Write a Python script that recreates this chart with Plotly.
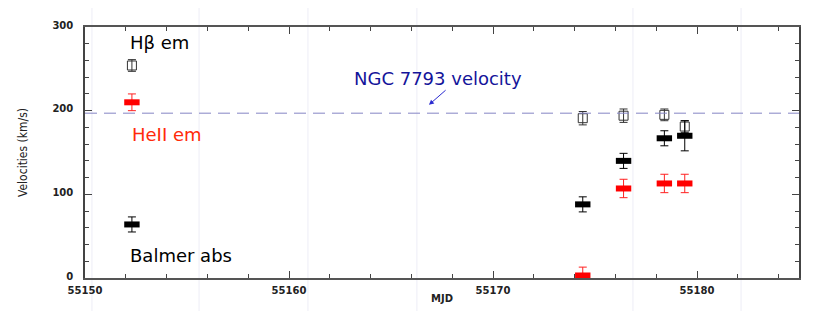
import plotly.graph_objects as go

# observation epochs (MJD) and measured velocities (km/s)
mjd = [55152.3, 55174.4, 55176.4, 55178.4, 55179.4]
hb_vel = [254, 191, 194, 195, 181]
hb_err = [7, 8, 8, 7, 7]
heii_vel = [210, 3, 107, 113, 113]
heii_err = [10, 10, 11, 11, 11]
balmer_vel = [64, 88, 140, 167, 170]
balmer_err = [9, 9, 9, 9, 18]
ngc_velocity = 197

x_range = [55150, 55185]
y_range = [0, 300]

# faint vertical lines seen in the scanned background
bg_lines = [55150.34, 55155.59, 55160.93, 55166.27, 55176.86, 55182.16]

fig = go.Figure()

for xb in bg_lines:
    fig.add_shape(type="line", xref="x", yref="paper", x0=xb, x1=xb, y0=-0.2, y1=1.2,
                  line=dict(color="#ededf6", width=1), layer="below")

fig.add_hline(y=ngc_velocity, line=dict(color="#8585c4", width=1, dash="12px,7px"))

fig.add_trace(go.Scatter(
    x=mjd, y=hb_vel, mode="markers", name="Hb em",
    marker=dict(symbol="square-open", size=9, color="#333333", line=dict(width=1, color="#333333")),
    error_y=dict(type="data", array=hb_err, color="#333333", thickness=1, width=4),
))
fig.add_trace(go.Scatter(
    x=mjd, y=balmer_vel, mode="markers", name="Balmer abs",
    marker=dict(symbol="line-ew", size=11, color="black", line=dict(width=6, color="black")),
    error_y=dict(type="data", array=balmer_err, color="black", thickness=1, width=4),
))
fig.add_trace(go.Scatter(
    x=mjd, y=heii_vel, mode="markers", name="HeII em",
    marker=dict(symbol="line-ew", size=11, color="#ff0000", line=dict(width=6, color="#ff0000")),
    error_y=dict(type="data", array=heii_err, color="#ff2020", thickness=1, width=4),
))

label_font = dict(family="DejaVu Sans, Arial, sans-serif", size=18)
fig.add_annotation(x=55152.1, y=282, text="Hβ em", showarrow=False, xanchor="left",
                   font=dict(**label_font, color="black"))
fig.add_annotation(x=55152.2, y=171, text="HeII em", showarrow=False, xanchor="left",
                   font=dict(**label_font, color="#ff2a0a"))
fig.add_annotation(x=55152.1, y=27, text="Balmer abs", showarrow=False, xanchor="left",
                   font=dict(**label_font, color="black"))
fig.add_annotation(x=55163.1, y=238, text="NGC 7793 velocity", showarrow=False, xanchor="left",
                   font=dict(family="DejaVu Sans, Arial, sans-serif", size=18, color="#14149a"))
fig.add_annotation(x=55166.86, y=207, ax=55167.75, ay=226, axref="x", ayref="y", text="",
                   showarrow=True, arrowhead=2, arrowsize=1, arrowwidth=1, arrowcolor="#2a2ad0")

tick_font = dict(family="DejaVu Sans, Arial, sans-serif", size=10, color="#222222", weight="bold")

fig.update_xaxes(
    range=x_range, dtick=10, tick0=55150, tickformat="d", ticks="inside", ticklen=7, tickcolor="#444444",
    minor=dict(dtick=2, ticks="inside", ticklen=4, tickcolor="#444444"),
    showline=True, linecolor="#555555", linewidth=1.5, mirror="allticks",
    showgrid=False, zeroline=False, tickfont=tick_font, automargin=False, ticklabelstandoff=2,
    title=dict(text="<b>MJD</b>", font=dict(family="DejaVu Sans, Arial, sans-serif", size=10, color="#222222"),
               standoff=0),
)
fig.update_yaxes(
    range=y_range, dtick=100, ticks="inside", ticklen=7, tickcolor="#444444",
    minor=dict(dtick=20, ticks="inside", ticklen=4, tickcolor="#444444"),
    showline=True, linecolor="#444444", linewidth=1.5, mirror="allticks",
    showgrid=False, zeroline=False, tickfont=tick_font, ticklabelstandoff=8, ticklabelshift=-2,
    automargin=False,
    title=dict(text="Velocities (km/s)",
               font=dict(family="Liberation Sans Narrow, Arial Narrow, DejaVu Sans Condensed, sans-serif",
                         size=12, color="#222222"),
               standoff=22),
)

# page body has an 8px margin, so the figure is sized and offset to fit the 830x311 window
fig.update_layout(
    width=822, height=303,
    margin=dict(l=77, r=31, t=19, b=33),
    plot_bgcolor="white", paper_bgcolor="white",
    showlegend=False,
)

fig.write_html("out.html")
